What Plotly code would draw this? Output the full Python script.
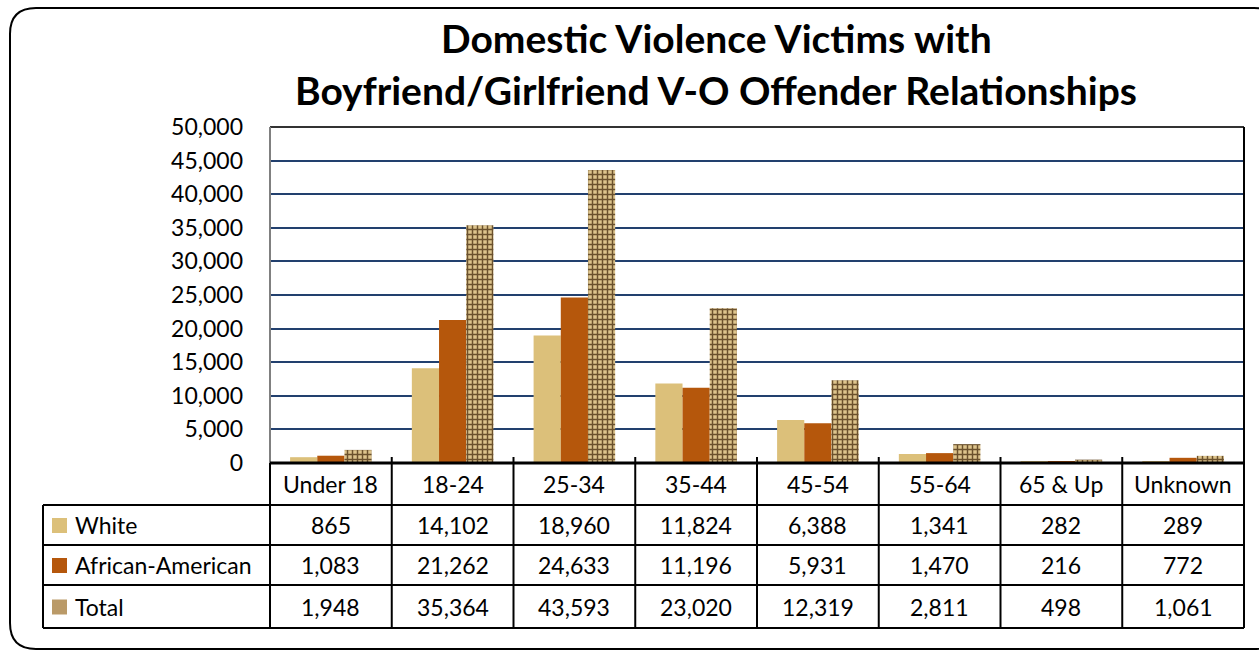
import plotly.graph_objects as go

W, H = 1259, 651

categories = ['Under 18', '18-24', '25-34', '35-44', '45-54', '55-64', '65 & Up', 'Unknown']
white = [865, 14102, 18960, 11824, 6388, 1341, 282, 289]
african_american = [1083, 21262, 24633, 11196, 5931, 1470, 216, 772]
total = [1948, 35364, 43593, 23020, 12319, 2811, 498, 1061]
series_names = ['White', 'African-American', 'Total']
title_lines = ['Domestic Violence Victims with', 'Boyfriend/Girlfriend V-O Offender Relationships']

c_white = '#DCC07A'
c_aa = '#B5570C'
c_total_bg = '#DDC48C'
c_total_fg = '#5E4422'
grid_col = '#22406E'
font_name = 'Lato'

# pixel layout of the plot area and table
plot_l, plot_r, plot_t, plot_b = 270, 1244, 127, 463
tab_l = 43
row_edges = [463, 505, 545, 585, 628]


def px(x):
    return x / W


def py(y):
    return 1 - y / H


fig = go.Figure()

fig.add_trace(go.Bar(x=categories, y=white, name=series_names[0],
                     marker=dict(color=c_white, line=dict(width=0))))
fig.add_trace(go.Bar(x=categories, y=african_american, name=series_names[1],
                     marker=dict(color=c_aa, line=dict(width=0))))
fig.add_trace(go.Bar(x=categories, y=total, name=series_names[2],
                     marker=dict(color=c_total_bg, line=dict(width=0),
                                 pattern=dict(shape='+', bgcolor=c_total_bg, fgcolor=c_total_fg,
                                              fgopacity=0.9, size=5, solidity=0.5))))

fig.update_layout(
    width=W, height=H,
    margin=dict(l=0, r=0, t=0, b=0),
    paper_bgcolor='white',
    plot_bgcolor='white',
    showlegend=False,
    barmode='group',
    bargap=0.33,
    bargroupgap=0,
    font=dict(family=font_name, size=23, color='black'),
)

fig.update_xaxes(
    domain=[px(plot_l), px(plot_r)],
    range=[-0.5, len(categories) - 0.5],
    showticklabels=False, showgrid=False, zeroline=False, showline=False, ticks='',
)
fig.update_yaxes(
    domain=[py(plot_b), py(plot_t)],
    range=[0, 50000],
    dtick=5000,
    tickformat=',',
    showgrid=True, gridcolor=grid_col, gridwidth=2,
    zeroline=False, showline=False, ticks='',
    ticklabelstandoff=26,
    automargin=False,
    tickfont=dict(family=font_name, size=23, color='black'),
)

shapes = []
line_k = dict(color='black', width=2)

# plot area frame
shapes.append(dict(type='line', xref='paper', yref='paper', x0=px(plot_l), x1=px(plot_r),
                   y0=py(plot_t), y1=py(plot_t), line=dict(color='#333333', width=2)))
shapes.append(dict(type='line', xref='paper', yref='paper', x0=px(plot_l), x1=px(plot_l),
                   y0=py(plot_t), y1=py(plot_b), line=dict(color='#808080', width=2)))
shapes.append(dict(type='line', xref='paper', yref='paper', x0=px(plot_r), x1=px(plot_r),
                   y0=py(plot_t), y1=py(row_edges[-1]), line=line_k))

# table horizontal lines
shapes.append(dict(type='line', xref='paper', yref='paper', x0=px(plot_l), x1=px(plot_r),
                   y0=py(row_edges[0]), y1=py(row_edges[0]), line=dict(color='black', width=3)))
for ry in row_edges[1:]:
    shapes.append(dict(type='line', xref='paper', yref='paper', x0=px(tab_l), x1=px(plot_r),
                       y0=py(ry), y1=py(ry), line=line_k))

# table vertical lines
shapes.append(dict(type='line', xref='paper', yref='paper', x0=px(tab_l), x1=px(tab_l),
                   y0=py(row_edges[1]), y1=py(row_edges[-1]), line=line_k))
shapes.append(dict(type='line', xref='paper', yref='paper', x0=px(plot_l), x1=px(plot_l),
                   y0=py(row_edges[0]), y1=py(row_edges[-1]), line=line_k))
for i in range(1, len(categories)):
    shapes.append(dict(type='line', xref='x', yref='paper', x0=i - 0.5, x1=i - 0.5,
                       y0=py(row_edges[0] - 6), y1=py(row_edges[-1]), line=line_k))

# legend keys in the table
key_cols = [c_white, c_aa, '#BA9A68']
for i, col in enumerate(key_cols):
    cy = (row_edges[i + 1] + row_edges[i + 2]) / 2
    shapes.append(dict(type='rect', xref='paper', yref='paper', x0=px(52), x1=px(67),
                       y0=py(cy - 7), y1=py(cy + 8), fillcolor=col, line=dict(width=0)))

# rounded outer border
bx0, by0, bx1, by1, r = 10, 8, 1280, 649, 26
path = (f'M {px(bx0 + r)},{py(by0)} L {px(bx1 - r)},{py(by0)} '
        f'Q {px(bx1)},{py(by0)} {px(bx1)},{py(by0 + r)} L {px(bx1)},{py(by1 - r)} '
        f'Q {px(bx1)},{py(by1)} {px(bx1 - r)},{py(by1)} L {px(bx0 + r)},{py(by1)} '
        f'Q {px(bx0)},{py(by1)} {px(bx0)},{py(by1 - r)} L {px(bx0)},{py(by0 + r)} '
        f'Q {px(bx0)},{py(by0)} {px(bx0 + r)},{py(by0)} Z')
shapes.append(dict(type='path', xref='paper', yref='paper', path=path,
                   line=dict(color='black', width=2)))

fig.update_layout(shapes=shapes)

annotations = []
# title
for txt, ty in zip(title_lines, [38, 90]):
    annotations.append(dict(text=f'<b>{txt}</b>', xref='paper', yref='paper', x=px(716), y=py(ty),
                            showarrow=False, xanchor='center', yanchor='middle',
                            font=dict(family=font_name, size=39, color='black')))

# category header row
hy = (row_edges[0] + row_edges[1]) / 2
for i, cat in enumerate(categories):
    annotations.append(dict(text=cat, xref='x', yref='paper', x=i, y=py(hy), showarrow=False,
                            xanchor='center', yanchor='middle'))

# data rows
for k, (name, vals) in enumerate(zip(series_names, [white, african_american, total])):
    cy = (row_edges[k + 1] + row_edges[k + 2]) / 2
    annotations.append(dict(text=name, xref='paper', yref='paper', x=px(73), y=py(cy),
                            showarrow=False, xanchor='left', yanchor='middle'))
    for i, v in enumerate(vals):
        annotations.append(dict(text=f'{v:,}', xref='x', yref='paper', x=i, y=py(cy),
                                showarrow=False, xanchor='center', yanchor='middle'))

fig.update_layout(annotations=annotations)

fig.write_html('out.html', config={'displayModeBar': False},
               post_script="document.body.style.margin='0';document.body.style.overflow='hidden';")
